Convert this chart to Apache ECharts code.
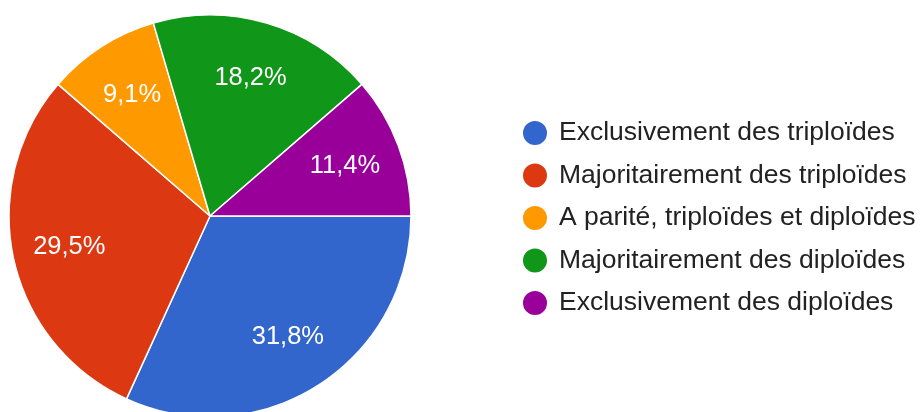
<!DOCTYPE html>
<html>
<head>
<meta charset="utf-8">
<script src="https://cdn.jsdelivr.net/npm/echarts@6/dist/echarts.min.js"></script>
<style>
  html, body { margin: 0; padding: 0; background: #fff; }
  #chart { width: 922px; height: 412px; }
</style>
</head>
<body>
<div id="chart"></div>
<script>
var categories = [
  'Exclusivement des triploïdes',
  'Majoritairement des triploïdes',
  'A parité, triploïdes et diploïdes',
  'Majoritairement des diploïdes',
  'Exclusivement des diploïdes'
];
var counts = [14, 13, 4, 8, 5];
var colors = ['#3366cc', '#dc3912', '#ff9900', '#109618', '#990099'];

var total = counts.reduce(function(a, b) { return a + b; }, 0);

var pieData = categories.map(function(name, i) {
  return { name: name, value: counts[i], itemStyle: { color: colors[i] } };
});

// pourcentage sur une décimale, virgule française
var fmt = function(p) {
  return (p.value / total * 100).toFixed(1).replace('.', ',') + '%';
};

var chart = echarts.init(document.getElementById('chart'));
chart.setOption({
  animation: false,
  legend: {
    orient: 'vertical',
    left: 521,
    top: 119,
    padding: 0,
    icon: 'circle',
    itemWidth: 26,
    itemHeight: 26,
    itemGap: 14.5,
    data: categories,
    textStyle: {
      fontFamily: 'Liberation Sans, Arial, sans-serif',
      fontSize: 26.5,
      color: '#222222',
      padding: [0, 0, 0, 6]
    }
  },
  series: [{
    name: 'pie',
    type: 'pie',
    center: [210, 216],
    radius: [0, 201],
    startAngle: 0,
    clockwise: true,
    label: { show: false },
    labelLine: { show: false },
    itemStyle: { borderColor: '#ffffff', borderWidth: 1.5 },
    emphasis: { disabled: true },
    data: pieData
  }, {
    name: 'labels',
    type: 'pie',
    center: [210, 216],
    radius: [80, 202],
    startAngle: 0,
    clockwise: true,
    silent: true,
    legendHoverLink: false,
    itemStyle: { color: 'rgba(0,0,0,0)', borderWidth: 0 },
    label: {
      show: true,
      position: 'inside',
      formatter: fmt,
      color: '#ffffff',
      fontFamily: 'Liberation Sans, Arial, sans-serif',
      fontSize: 25.5
    },
    labelLine: { show: false },
    emphasis: { disabled: true },
    data: categories.map(function(name, i) {
      return { name: name, value: counts[i] };
    })
  }]
});
</script>
</body>
</html>
